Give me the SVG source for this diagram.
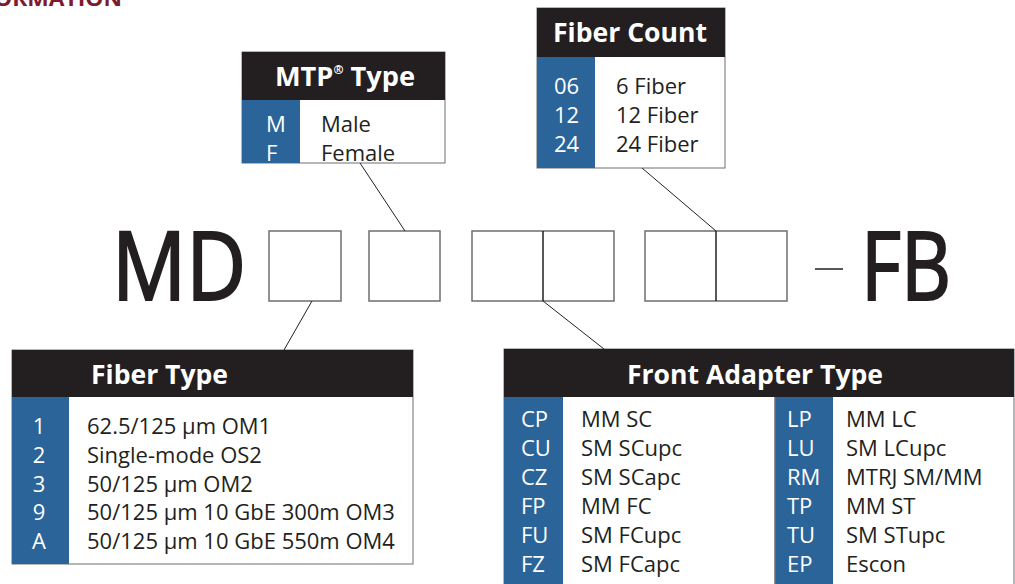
<svg xmlns="http://www.w3.org/2000/svg" width="1015" height="584" viewBox="0 0 1015 584">
<style>
.hdr{fill:#231f20}
.blue{fill:#2b6499}
.panel{fill:#ffffff;stroke:#6d6e71;stroke-width:1}
.ht{font-family:"Open Sans","Noto Sans",sans-serif;font-weight:bold;font-size:27px;fill:#ffffff}
.code{font-family:"Open Sans","Noto Sans",sans-serif;font-size:22px;fill:#ffffff}
.desc{font-family:"Open Sans","Noto Sans",sans-serif;font-size:22px;fill:#231f20}
.big{font-family:"Open Sans","Noto Sans",sans-serif;font-size:96px;fill:#231f20;stroke:#231f20;stroke-width:2.2}
.slot{fill:#ffffff;stroke:#6d6e71;stroke-width:1.5}
.conn{stroke:#231f20;stroke-width:1;fill:none}
</style>
<rect width="1015" height="584" fill="#ffffff"/>
<text x="-6" y="6" font-family="Open Sans, sans-serif" font-weight="bold" font-size="22" fill="#7d1a30" textLength="128" lengthAdjust="spacingAndGlyphs">ORMATION</text>

<g id="code-row">
<text class="big" x="112" y="300" textLength="134" lengthAdjust="spacingAndGlyphs">MD</text>
<rect class="slot" x="269" y="231" width="72" height="70"/>
<rect class="slot" x="369" y="231" width="71" height="70"/>
<rect class="slot" x="472" y="231" width="142" height="70"/>
<line x1="543" y1="231" x2="543" y2="301" stroke="#231f20" stroke-width="1.5"/>
<rect class="slot" x="645" y="231" width="142" height="70"/>
<line x1="716" y1="231" x2="716" y2="301" stroke="#231f20" stroke-width="1.5"/>
<line x1="815" y1="269" x2="843" y2="269" stroke="#231f20" stroke-width="1.5"/>
<text class="big" x="861" y="300" textLength="90" lengthAdjust="spacingAndGlyphs">FB</text>
</g>

<g id="mtp-type">
<rect class="panel" x="242" y="52" width="203" height="111"/>
<rect class="hdr" x="242" y="52" width="203" height="48"/>
<rect class="blue" x="242" y="100" width="58" height="63"/>
<text class="ht" x="275" y="86" textLength="140" lengthAdjust="spacingAndGlyphs">MTP<tspan font-size="12" dy="-12">®</tspan><tspan dy="12"> Type</tspan></text>
<text class="code" x="266" y="132">M</text>
<text class="code" x="266" y="161">F</text>
<text class="desc" x="321" y="132">Male</text>
<text class="desc" x="321" y="161">Female</text>
</g>

<g id="fiber-count">
<rect class="panel" x="537" y="8" width="188" height="160"/>
<rect class="hdr" x="537" y="8" width="188" height="49"/>
<rect class="blue" x="537" y="57" width="58" height="111"/>
<text class="ht" x="553" y="42" textLength="154" lengthAdjust="spacingAndGlyphs">Fiber Count</text>
<text class="code" x="554" y="94">06</text>
<text class="code" x="554" y="123">12</text>
<text class="code" x="554" y="152">24</text>
<text class="desc" x="616" y="94">6 Fiber</text>
<text class="desc" x="616" y="123">12 Fiber</text>
<text class="desc" x="616" y="152">24 Fiber</text>
</g>

<g id="fiber-type">
<rect class="panel" x="12" y="350" width="401" height="214"/>
<rect class="hdr" x="12" y="350" width="401" height="47"/>
<rect class="blue" x="12" y="397" width="57" height="167"/>
<text class="ht" x="91" y="384" textLength="137" lengthAdjust="spacingAndGlyphs">Fiber Type</text>
<g text-anchor="middle">
<text class="code" x="39" y="434">1</text>
<text class="code" x="39" y="463">2</text>
<text class="code" x="39" y="492">3</text>
<text class="code" x="39" y="520">9</text>
<text class="code" x="39" y="549">A</text>
</g>
<text class="desc" x="87" y="434">62.5/125 µm OM1</text>
<text class="desc" x="87" y="463">Single-mode OS2</text>
<text class="desc" x="87" y="492">50/125 µm OM2</text>
<text class="desc" x="87" y="520">50/125 µm 10 GbE 300m OM3</text>
<text class="desc" x="87" y="549">50/125 µm 10 GbE 550m OM4</text>
</g>

<g id="front-adapter-type">
<rect class="panel" x="504" y="349" width="510" height="245"/>
<rect class="hdr" x="504" y="349" width="510" height="48"/>
<rect class="blue" x="504" y="397" width="59" height="197"/>
<rect class="blue" x="775" y="397" width="58" height="197"/>
<line x1="775" y1="397" x2="775" y2="584" stroke="#6d6e71" stroke-width="1.5"/>
<text class="ht" x="627" y="384" textLength="256" lengthAdjust="spacingAndGlyphs">Front Adapter Type</text>
<text class="code" x="521" y="427">CP</text>
<text class="code" x="521" y="456">CU</text>
<text class="code" x="521" y="485">CZ</text>
<text class="code" x="521" y="514">FP</text>
<text class="code" x="521" y="543">FU</text>
<text class="code" x="521" y="572">FZ</text>
<text class="desc" x="581" y="427">MM SC</text>
<text class="desc" x="581" y="456">SM SCupc</text>
<text class="desc" x="581" y="485">SM SCapc</text>
<text class="desc" x="581" y="514">MM FC</text>
<text class="desc" x="581" y="543">SM FCupc</text>
<text class="desc" x="581" y="572">SM FCapc</text>
<text class="code" x="787" y="427">LP</text>
<text class="code" x="787" y="456">LU</text>
<text class="code" x="787" y="485">RM</text>
<text class="code" x="787" y="514">TP</text>
<text class="code" x="787" y="543">TU</text>
<text class="code" x="787" y="572">EP</text>
<text class="desc" x="846" y="427">MM LC</text>
<text class="desc" x="846" y="456">SM LCupc</text>
<text class="desc" x="846" y="485">MTRJ SM/MM</text>
<text class="desc" x="846" y="514">MM ST</text>
<text class="desc" x="846" y="543">SM STupc</text>
<text class="desc" x="846" y="572">Escon</text>
</g>

<g id="connectors">
<line class="conn" x1="360" y1="163" x2="405" y2="231"/>
<line class="conn" x1="642" y1="168" x2="716" y2="231"/>
<line class="conn" x1="312" y1="301" x2="284" y2="350"/>
<line class="conn" x1="543" y1="301" x2="604" y2="349"/>
</g>
</svg>
